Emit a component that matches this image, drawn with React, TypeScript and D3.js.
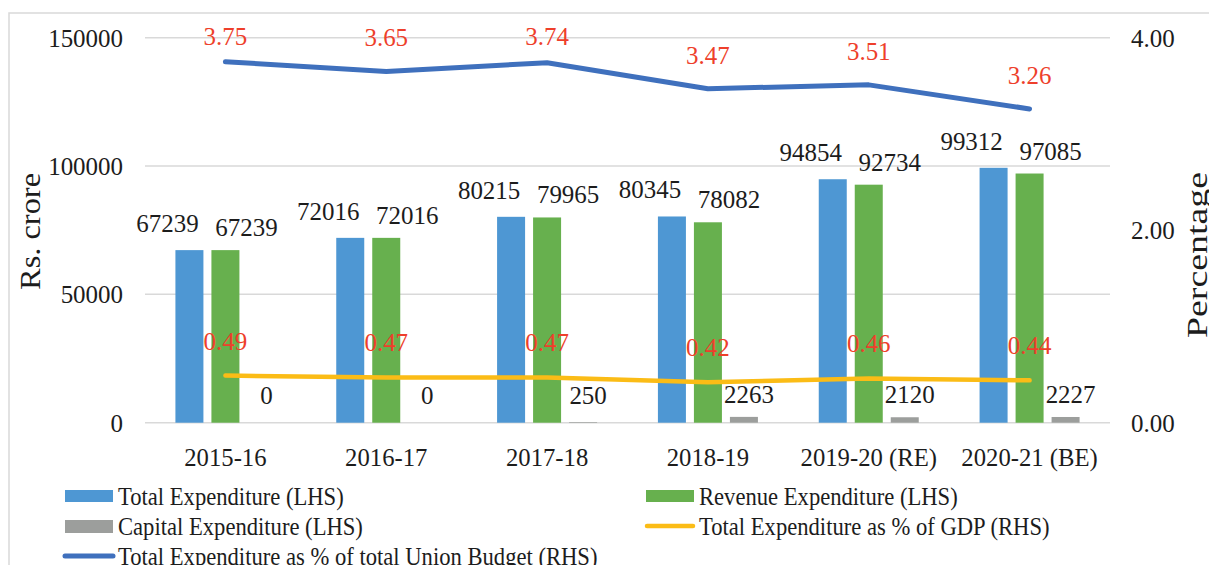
import * as d3 from "d3";

const categories = ["2015-16", "2016-17", "2017-18", "2018-19", "2019-20 (RE)", "2020-21 (BE)"];
const totalExp = [67239, 72016, 80215, 80345, 94854, 99312];
const revenueExp = [67239, 72016, 79965, 78082, 92734, 97085];
const capitalExp = [0, 0, 250, 2263, 2120, 2227];
const pctGdp = [0.49, 0.47, 0.47, 0.42, 0.46, 0.44];
const pctBudget = [3.75, 3.65, 3.74, 3.47, 3.51, 3.26];
const leftTicks = [0, 50000, 100000, 150000];
const rightTicks = [0, 2, 4];

const W = 1209;
const H = 565;
const FONT = "'Liberation Serif', 'Times New Roman', serif";
const INK = "#1c1c1c";
const RED = "#ee3f2b";
const C_TOTAL = "#4e97d3";
const C_REV = "#67b04e";
const C_CAP = "#9c9e9c";
const C_BUDGET = "#3f70bd";
const C_GDP = "#fbbc16";

// reference text looks squeezed sideways, so scale x a bit
function T({ x, y, anchor = "middle", fill = INK, size = 26, sx = 0.96, children }: any) {
  return (
    <text
      transform={`translate(${x},${y}) scale(${sx},1)`}
      textAnchor={anchor}
      fill={fill}
      fontFamily={FONT}
      fontSize={size}
    >
      {children}
    </text>
  );
}

export default function App() {
  const left = 145;
  const right = 1110;
  const yL = d3.scaleLinear().domain([0, 150000]).range([422.7, 37.7]);
  const yR = d3.scaleLinear().domain([0, 4]).range([422.7, 37.7]);
  const x = d3.scaleBand().domain(categories).range([left, right]).padding(0);
  const cx = (c: string) => (x(c) as number) + x.bandwidth() / 2;

  const series = ["total", "rev", "cap"];
  const inner = d3.scaleBand().domain(series).range([-50, 50]).paddingInner(8 / 36).paddingOuter(0);
  const bw = inner.bandwidth();
  const bx = (c: string, s: string) => cx(c) + (inner(s) as number);

  const lineGen = d3
    .line<number>()
    .x((_, i) => cx(categories[i]))
    .y((d) => yR(d));

  return (
    <svg
      width={W}
      height={H}
      style={{ position: "absolute", left: 0, top: 0, background: "#fff" }}
    >
      <rect x={9} y={13} width={W} height={H} fill="none" stroke="#d9d9d9" strokeWidth={1.5} />

      {leftTicks.map((t) => (
        <g key={t}>
          <line x1={left} x2={right} y1={yL(t)} y2={yL(t)} stroke="#d9d9d9" strokeWidth={1.5} />
          <T x={123} y={yL(t) + 9} anchor="end">{t}</T>
        </g>
      ))}
      {rightTicks.map((t) => (
        <T key={t} x={1131} y={yR(t) + 9} anchor="start">{t.toFixed(2)}</T>
      ))}

      <text
        transform="translate(40,231.5) rotate(-90)"
        textAnchor="middle"
        fontFamily={FONT}
        fontSize={29}
        fill={INK}
        textLength={117}
        lengthAdjust="spacingAndGlyphs"
      >
        Rs. crore
      </text>
      <text
        transform="translate(1207,255) rotate(-90)"
        textAnchor="middle"
        fontFamily={FONT}
        fontSize={29}
        fill={INK}
        textLength={166}
        lengthAdjust="spacingAndGlyphs"
      >
        Percentage
      </text>

      {categories.map((c, i) => (
        <g key={c}>
          <rect x={bx(c, "total")} y={yL(totalExp[i])} width={bw} height={yL(0) - yL(totalExp[i])} fill={C_TOTAL} />
          <rect x={bx(c, "rev")} y={yL(revenueExp[i])} width={bw} height={yL(0) - yL(revenueExp[i])} fill={C_REV} />
          <rect x={bx(c, "cap")} y={yL(capitalExp[i])} width={bw} height={yL(0) - yL(capitalExp[i])} fill={C_CAP} />
          <T x={cx(c)} y={466} sx={0.95}>{c}</T>
        </g>
      ))}

      <path d={lineGen(pctBudget) || ""} fill="none" stroke={C_BUDGET} strokeWidth={5} strokeLinecap="round" strokeLinejoin="round" />
      <path d={lineGen(pctGdp) || ""} fill="none" stroke={C_GDP} strokeWidth={4.5} strokeLinecap="round" strokeLinejoin="round" />

      {categories.map((c, i) => (
        <g key={"lab" + c}>
          <T x={bx(c, "total") + bw / 2 - 22} y={yL(totalExp[i]) - 18}>{totalExp[i]}</T>
          <T x={bx(c, "rev") + bw / 2 + 21} y={yL(revenueExp[i]) - 14}>{revenueExp[i]}</T>
          <T x={bx(c, "cap") + bw / 2 + 5} y={Math.min(yL(capitalExp[i]) - 14, yL(0) - 19)}>{capitalExp[i]}</T>
          <T x={cx(c)} y={Math.max(yR(pctBudget[i]) - 25, 45)} fill={RED}>{pctBudget[i].toFixed(2)}</T>
          <T x={cx(c)} y={yR(pctGdp[i]) - 26} fill={RED}>{pctGdp[i].toFixed(2)}</T>
        </g>
      ))}

      <g>
        <rect x={65} y={490} width={48} height={12} fill={C_TOTAL} />
        <T x={118} y={505} anchor="start" sx={0.87}>Total Expenditure (LHS)</T>
        <rect x={646} y={490} width={48} height={12} fill={C_REV} />
        <T x={699} y={505} anchor="start" sx={0.87}>Revenue Expenditure (LHS)</T>
        <rect x={65} y={520} width={48} height={13} fill={C_CAP} />
        <T x={118} y={535} anchor="start" sx={0.87}>Capital Expenditure (LHS)</T>
        <line x1={647} x2={693} y1={526} y2={526} stroke={C_GDP} strokeWidth={4.5} strokeLinecap="round" />
        <T x={699} y={535} anchor="start" sx={0.87}>Total Expenditure as % of GDP (RHS)</T>
        <line x1={65} x2={113} y1={556} y2={556} stroke={C_BUDGET} strokeWidth={5} strokeLinecap="round" />
        <T x={118} y={565} anchor="start" sx={0.87}>Total Expenditure as % of total Union Budget (RHS)</T>
      </g>
    </svg>
  );
}
